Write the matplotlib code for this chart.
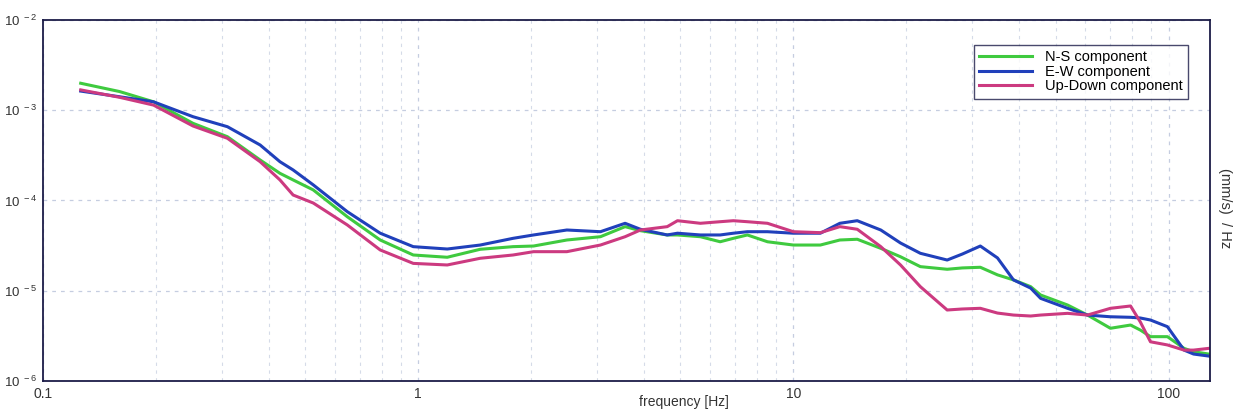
import matplotlib
matplotlib.use("Agg")
import matplotlib.pyplot as plt
from matplotlib.ticker import FixedLocator, NullFormatter, LogLocator

plt.rcParams["font.family"] = ["Liberation Sans", "DejaVu Sans"]

# frequency axis shared by the three components (Hz)
freq = [0.126, 0.160, 0.197, 0.251, 0.310, 0.379, 0.428, 0.464, 0.525, 0.647,
        0.792, 0.970, 1.195, 1.463, 1.79, 2.03, 2.49, 3.06, 3.56, 3.91,
        4.61, 4.91, 5.65, 6.38, 6.92, 7.54, 8.53, 10.0, 11.8, 13.3,
        14.8, 17.1, 19.3, 21.8, 25.7, 28.2, 31.5, 35.0, 38.6, 42.9,
        45.6, 53.8, 60.8, 70.0, 79.2, 84.1, 89.5, 99.3, 110.0, 116.6, 128.0]

ns = [1.99e-3, 1.61e-3, 1.24e-3, 7.16e-4, 5.09e-4, 2.81e-4, 2.00e-4, 1.69e-4, 1.31e-4, 6.61e-5,
      3.65e-5, 2.49e-5, 2.35e-5, 2.88e-5, 3.08e-5, 3.13e-5, 3.65e-5, 3.97e-5, 5.13e-5, 4.63e-5,
      4.15e-5, 4.15e-5, 3.97e-5, 3.49e-5, 3.81e-5, 4.15e-5, 3.49e-5, 3.21e-5, 3.21e-5, 3.65e-5,
      3.72e-5, 2.95e-5, 2.38e-5, 1.85e-5, 1.73e-5, 1.79e-5, 1.82e-5, 1.50e-5, 1.32e-5, 1.11e-5,
      8.97e-6, 6.95e-6, 5.38e-6, 3.84e-6, 4.17e-6, 3.67e-6, 3.10e-6, 3.10e-6, 2.30e-6, 2.11e-6, 1.99e-6]

ew = [1.63e-3, 1.41e-3, 1.24e-3, 8.48e-4, 6.57e-4, 4.12e-4, 2.69e-4, 2.18e-4, 1.49e-4, 7.52e-5,
      4.34e-5, 3.08e-5, 2.90e-5, 3.21e-5, 3.81e-5, 4.15e-5, 4.71e-5, 4.51e-5, 5.59e-5, 4.80e-5,
      4.15e-5, 4.34e-5, 4.15e-5, 4.15e-5, 4.34e-5, 4.51e-5, 4.51e-5, 4.34e-5, 4.34e-5, 5.59e-5,
      5.97e-5, 4.71e-5, 3.38e-5, 2.60e-5, 2.19e-5, 2.55e-5, 3.13e-5, 2.31e-5, 1.32e-5, 1.07e-5,
      8.24e-6, 6.39e-6, 5.38e-6, 5.15e-6, 5.08e-6, 4.99e-6, 4.74e-6, 4.00e-6, 2.20e-6, 1.99e-6, 1.89e-6]

ud = [1.68e-3, 1.39e-3, 1.14e-3, 6.69e-4, 4.89e-4, 2.69e-4, 1.69e-4, 1.15e-4, 9.38e-5, 5.36e-5,
      2.83e-5, 2.01e-5, 1.93e-5, 2.29e-5, 2.49e-5, 2.71e-5, 2.71e-5, 3.21e-5, 3.97e-5, 4.71e-5,
      5.13e-5, 5.97e-5, 5.59e-5, 5.82e-5, 5.97e-5, 5.82e-5, 5.59e-5, 4.51e-5, 4.40e-5, 5.13e-5,
      4.80e-5, 3.08e-5, 1.93e-5, 1.11e-5, 6.12e-6, 6.28e-6, 6.39e-6, 5.66e-6, 5.38e-6, 5.25e-6,
      5.38e-6, 5.62e-6, 5.38e-6, 6.39e-6, 6.78e-6, 4.51e-6, 2.72e-6, 2.51e-6, 2.20e-6, 2.20e-6, 2.30e-6]

labels = ["N-S component", "E-W component", "Up-Down component"]
colors = ["#3fca3f", "#2040bb", "#cc3a80"]

fig = plt.figure(figsize=(12.37, 4.16), dpi=100)
ax = fig.add_axes([0.0348, 0.0841, 0.9434, 0.8679])

for vals, lab, col in zip([ns, ew, ud], labels, colors):
    ax.plot(freq, vals, color=col, lw=2.2, label=lab, solid_joinstyle="round")

ax.set_xscale("log")
ax.set_yscale("log")
ax.set_xlim(0.1, 129)
ax.set_ylim(1e-6, 1e-2)

ax.xaxis.set_major_locator(FixedLocator([0.1, 1, 10, 100]))
ax.set_xticklabels(["0.1", "1", "10", "100"], fontsize=10)
ax.xaxis.set_minor_locator(LogLocator(base=10, subs=range(2, 10), numticks=20))
ax.xaxis.set_minor_formatter(NullFormatter())
ax.yaxis.set_major_locator(FixedLocator([1e-6, 1e-5, 1e-4, 1e-3, 1e-2]))
ax.set_yticklabels([r"$\mathregular{10^{\ -%d}}$" % e for e in [6, 5, 4, 3, 2]], fontsize=9.5)
ax.yaxis.set_minor_locator(FixedLocator([]))
ax.tick_params(which="both", length=0, pad=4, colors="#333333")

ax.grid(which="major", color="#c5cde0", ls=(0, (3, 4)), lw=0.9)
ax.grid(which="minor", axis="x", color="#d5dbe8", ls=(0, (3, 4)), lw=0.8)

for s in ax.spines.values():
    s.set_color("#1c1c48")
    s.set_linewidth(1.3)

leg = ax.legend(loc="upper right", bbox_to_anchor=(0.981, 0.931), fontsize=10.5,
                frameon=True, fancybox=False, borderpad=0.35, labelspacing=0.05,
                handlelength=3.6, handletextpad=0.9, borderaxespad=0)
leg.get_frame().set_edgecolor("#1c1c48")
leg.get_frame().set_linewidth(1.0)

fig.text(0.5526, 0.034, "frequency [Hz]", fontsize=10, ha="center", va="center", color="#333333")
fig.text(0.990, 0.50, "(mm/s)  / Hz", fontsize=10.5, rotation=270, ha="center", va="center", color="#333333")

fig.savefig("out.png", dpi=100)
